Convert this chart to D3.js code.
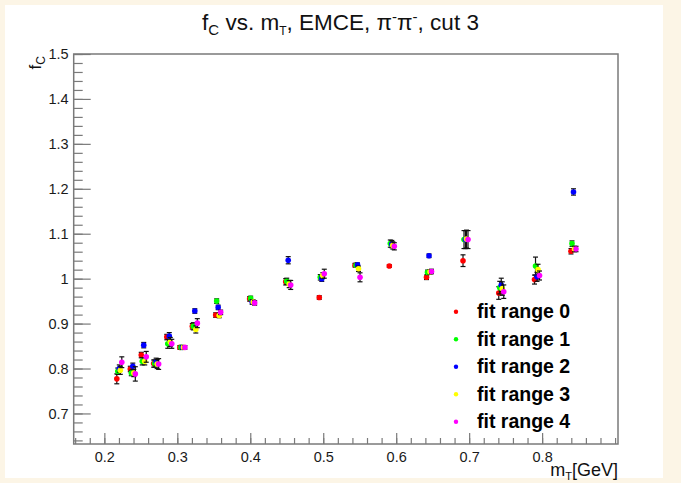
<!DOCTYPE html>
<html>
<head>
<meta charset="utf-8">
<script src="https://cdn.jsdelivr.net/npm/d3@7"></script>
<style>
  html, body { margin: 0; padding: 0; background: #fcf5e6; }
  svg { display: block; }
  text { font-family: "Liberation Sans", Arial, Helvetica, sans-serif; }
</style>
</head>
<body>
<svg id="chart" width="681" height="483"></svg>
<script>
// transverse mass bins [GeV]
const mT = [0.2205, 0.239, 0.254, 0.271, 0.289, 0.307, 0.324, 0.356, 0.4026,
            0.452, 0.498, 0.547, 0.594, 0.645, 0.695, 0.744, 0.793, 0.843];

// correlation strength f_C for each fit range
const fc0 = [0.777, 0.799, 0.830, 0.811, 0.870, 0.847, 0.894, 0.919, 0.955, 0.993, 0.958, 1.030, 1.028, 1.003, 1.040, 0.968, 0.998, 1.061];
const fc1 = [0.794, 0.790, 0.816, 0.811, 0.855, 0.847, 0.894, 0.950, 0.956, 0.994, 1.003, 1.030, 1.078, 1.014, 1.087, 0.980, 1.028, 1.078];
const fc2 = [0.800, 0.805, 0.852, 0.815, 0.872, 0.847, 0.928, 0.936, 0.948, 1.041, 1.000, 1.031, 1.077, 1.051, 1.087, 0.986, 1.004, 1.193];
const fc3 = [0.796, 0.790, 0.816, 0.810, 0.859, 0.847, 0.887, 0.918, 0.948, 0.988, 1.007, 1.022, 1.074, 1.015, 1.088, 0.978, 1.020, 1.066];
const fc4 = [0.814, 0.788, 0.826, 0.810, 0.855, 0.847, 0.901, 0.925, 0.946, 0.986, 1.011, 1.003, 1.072, 1.016, 1.087, 0.971, 1.007, 1.066];

// statistical uncertainties
const err0 = [0.011, 0.006, 0.006, 0.008, 0.006, 0.004, 0.006, 0.005, 0.005, 0.007, 0.004, 0.004, 0.003, 0.005, 0.013, 0.014, 0.010, 0.006];
const err1 = [0.007, 0.006, 0.008, 0.008, 0.010, 0.004, 0.008, 0.005, 0.005, 0.007, 0.006, 0.004, 0.008, 0.005, 0.020, 0.014, 0.020, 0.006];
const err2 = [0.008, 0.007, 0.006, 0.008, 0.008, 0.004, 0.005, 0.005, 0.005, 0.008, 0.006, 0.004, 0.008, 0.004, 0.020, 0.015, 0.010, 0.007];
const err3 = [0.009, 0.008, 0.008, 0.010, 0.010, 0.004, 0.008, 0.005, 0.005, 0.008, 0.006, 0.006, 0.008, 0.005, 0.020, 0.015, 0.012, 0.006];
const err4 = [0.012, 0.016, 0.012, 0.012, 0.010, 0.004, 0.010, 0.005, 0.005, 0.010, 0.010, 0.010, 0.008, 0.005, 0.020, 0.015, 0.010, 0.006];

const seriesNames = ["fit range 0", "fit range 1", "fit range 2", "fit range 3", "fit range 4"];
const seriesValues = [fc0, fc1, fc2, fc3, fc4];
const seriesErrors = [err0, err1, err2, err3, err4];
const seriesColors = ["#ff0000", "#00ff00", "#0000ff", "#ffff00", "#ff00ff"];
const seriesShift = [-2.5, -1.5, 0, 1, 2.5]; // small pixel offsets so points don't overlap

// axis ticks
const xMajor = [0.2, 0.3, 0.4, 0.5, 0.6, 0.7, 0.8];
const xMajorLabels = ["0.2", "0.3", "0.4", "0.5", "0.6", "0.7", "0.8"];
const xMinor = d3.range(8, 46).map(i => i / 50);   // every 0.02
const yMajor = [0.7, 0.8, 0.9, 1.0, 1.1, 1.2, 1.3, 1.4, 1.5];
const yMajorLabels = ["0.7", "0.8", "0.9", "1", "1.1", "1.2", "1.3", "1.4", "1.5"];
const yMinor = d3.range(32, 76).map(i => i / 50);  // every 0.02

const svg = d3.select("#chart");

// canvas
svg.append("rect").attr("x", 5).attr("y", 5).attr("width", 658).attr("height", 473).attr("fill", "#ffffff");

const frame = { left: 73.7, right: 618, top: 54, bottom: 444 };
const x = d3.scaleLinear().domain([0.158, 0.904]).range([frame.left, frame.right]);
const y = d3.scaleLinear().domain([0.632, 1.5]).range([frame.bottom, frame.top]);

const axisColor = "#7a7a7a";

// x axis: minor then major ticks pointing into the frame
const gxMinor = svg.append("g").attr("transform", `translate(0,${frame.bottom})`)
  .call(d3.axisBottom(x).tickValues(xMinor.filter(v => v >= 0.158 && v <= 0.904)).tickSize(-6).tickFormat(""));
const gxMajor = svg.append("g").attr("transform", `translate(0,${frame.bottom})`)
  .call(d3.axisBottom(x).tickValues(xMajor).tickSize(-11).tickPadding(14)
    .tickFormat((d, i) => xMajorLabels[i]));

// y axis
const gyMinor = svg.append("g").attr("transform", `translate(${frame.left},0)`)
  .call(d3.axisLeft(y).tickValues(yMinor.filter(v => v >= 0.632 && v <= 1.5)).tickSize(-9).tickFormat(""));
const gyMajor = svg.append("g").attr("transform", `translate(${frame.left},0)`)
  .call(d3.axisLeft(y).tickValues(yMajor).tickSize(-17).tickPadding(5)
    .tickFormat((d, i) => yMajorLabels[i]));

[gxMinor, gxMajor, gyMinor, gyMajor].forEach(g => {
  g.select(".domain").remove();
  g.selectAll(".tick line").attr("stroke", axisColor).attr("stroke-width", 1.2);
  g.selectAll(".tick text").attr("fill", "#1a1a1a").style("font-size", "14.5px");
});
gxMajor.selectAll(".tick text").attr("dy", "0.3em");

// frame
svg.append("rect")
  .attr("x", frame.left).attr("y", frame.top)
  .attr("width", frame.right - frame.left).attr("height", frame.bottom - frame.top)
  .attr("fill", "none").attr("stroke", axisColor).attr("stroke-width", 1.5);

// data: error bars then markers, one series at a time
const plot = svg.append("g");
seriesValues.forEach((vals, s) => {
  const g = plot.append("g");
  const pts = mT.map((m, i) => ({ m, v: vals[i], e: seriesErrors[s][i] }));
  const px = d => x(d.m) + seriesShift[s];
  g.selectAll("line.err").data(pts).join("line").attr("class", "err")
    .attr("x1", px).attr("x2", px)
    .attr("y1", d => y(d.v - d.e)).attr("y2", d => y(d.v + d.e))
    .attr("stroke", "#111").attr("stroke-width", 1.2);
  ["lo", "hi"].forEach(k => {
    g.selectAll("line.cap" + k).data(pts).join("line").attr("class", "cap" + k)
      .attr("x1", d => px(d) - 2.5).attr("x2", d => px(d) + 2.5)
      .attr("y1", d => y(k === "lo" ? d.v - d.e : d.v + d.e))
      .attr("y2", d => y(k === "lo" ? d.v - d.e : d.v + d.e))
      .attr("stroke", "#111").attr("stroke-width", 1.2);
  });
  g.selectAll("circle").data(pts).join("circle")
    .attr("cx", px).attr("cy", d => y(d.v)).attr("r", 2.8)
    .attr("fill", seriesColors[s]);
});

// legend
const legend = svg.append("g");
seriesNames.forEach((name, i) => {
  const cy = 311.7 + i * 27.5;
  legend.append("circle").attr("cx", 456).attr("cy", cy).attr("r", 2.2).attr("fill", seriesColors[i]);
  legend.append("text").attr("x", 477).attr("y", cy + 6.5)
    .attr("fill", "#000").style("font-size", "19.5px").style("font-weight", "bold")
    .text(name);
});

// title
const title = svg.append("text").attr("x", 340.5).attr("y", 30).attr("text-anchor", "middle")
  .attr("fill", "#111").style("font-size", "22.5px");
title.append("tspan").text("f");
title.append("tspan").attr("dy", 5).style("font-size", "15px").text("C");
title.append("tspan").attr("dy", -5).text(" vs. m");
title.append("tspan").attr("dy", 5).style("font-size", "12px").text("T");
title.append("tspan").attr("dy", -5).text(", EMCE, π");
title.append("tspan").attr("dy", -8).style("font-size", "15px").text("-");
title.append("tspan").attr("dy", 8).text("π");
title.append("tspan").attr("dy", -8).style("font-size", "15px").text("-");
title.append("tspan").attr("dy", 8).text(", cut 3");

// x-axis title
const xt = svg.append("text").attr("x", frame.right).attr("y", 476).attr("text-anchor", "end")
  .attr("fill", "#111").style("font-size", "18px");
xt.append("tspan").text("m");
xt.append("tspan").attr("dy", 4).style("font-size", "11px").text("T");
xt.append("tspan").attr("dy", -4).text("[GeV]");

// y-axis title
const yt = svg.append("text").attr("transform", `translate(41,56) rotate(-90)`)
  .attr("text-anchor", "end").attr("fill", "#111").style("font-size", "17px");
yt.append("tspan").text("f");
yt.append("tspan").attr("dy", 4).style("font-size", "12px").text("C");
</script>
</body>
</html>
